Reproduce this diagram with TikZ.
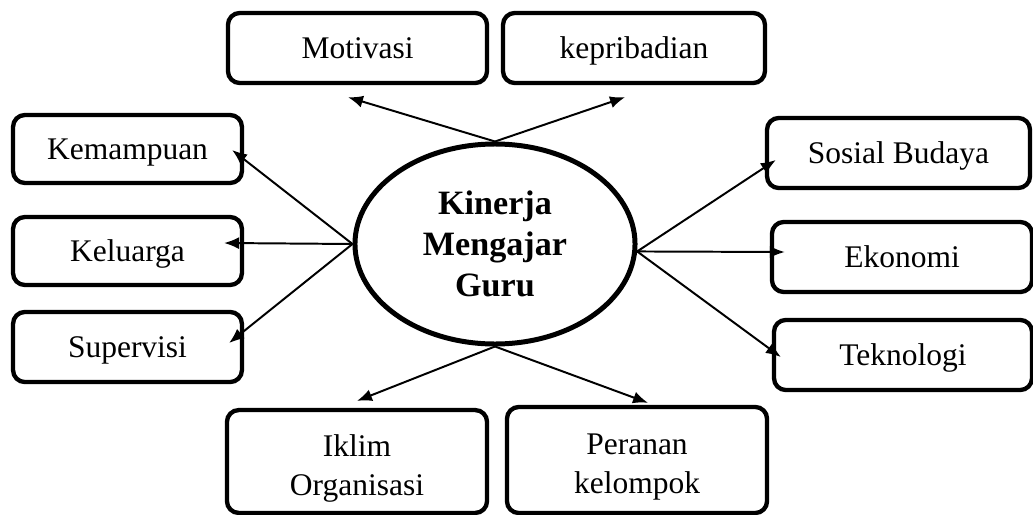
\documentclass[tikz,border=0pt]{standalone}
\usepackage{fontspec}
\setmainfont{Liberation Serif}
\usetikzlibrary{shapes.geometric,arrows.meta,calc}

\tikzset{
  kotak/.style={draw, line width=1.65pt, rounded corners=4.5pt, inner sep=0pt,
    text height=7.9pt, text depth=0pt},
  kotakdua/.style={draw, line width=1.65pt, rounded corners=4.5pt, inner sep=0pt,
    align=center, text height=28.5pt, text depth=2.6pt, font=\fontsize{12}{15}\selectfont},
  pusat/.style={draw, ellipse, line width=1.9pt, inner sep=0pt, align=center,
    font=\fontsize{13}{15.5}\selectfont\bfseries},
  panah/.style={->, line width=0.75pt}
}

\begin{document}
\begin{tikzpicture}[x=0.381pt, y=-0.381pt, >={Latex[length=5.7pt,width=4.6pt]},
    font=\fontsize{12}{14.5}\selectfont]
    \useasboundingbox (0,0) rectangle (1033,515);

    % 1. Elips di tengah
    \node[pusat, minimum width=106.7pt, minimum height=76.2pt] (guru) at (495,244)
        {Kinerja\\Mengajar\\Guru};

    % 2. Kotak atas
    \node[kotak, minimum width=98.7pt, minimum height=26.7pt] (mot) at (357.5,48) {Motivasi};
    \node[kotak, minimum width=99.8pt, minimum height=26.7pt] (kep) at (634,48) {kepribadian};

    % 3. Kotak kiri
    \node[kotak, minimum width=87.2pt, minimum height=25.9pt] (kem) at (127.5,149) {Kemampuan};
    \node[kotak, minimum width=87.2pt, minimum height=25.9pt] (kel) at (127.5,251) {Keluarga};
    \node[kotak, minimum width=87.2pt, minimum height=26.7pt] (sup) at (127.5,347) {Supervisi};

    % 4. Kotak kanan
    \node[kotak, minimum width=100.2pt, minimum height=26.7pt] (sos) at (898.5,153) {Sosial Budaya};
    \node[kotak, minimum width=99.1pt, minimum height=26.7pt] (eko) at (902,257) {Ekonomi};
    \node[kotak, minimum width=98.3pt, minimum height=26.7pt] (tek) at (903,355) {Teknologi};

    % 5. Kotak bawah
    \node[kotakdua, minimum width=99.1pt, minimum height=39.2pt] (ikl) at (357,461.5)
        {Iklim\\Organisasi};
    \node[kotakdua, minimum width=99.1pt, minimum height=40.4pt] (per) at (637,460)
        {Peranan\\kelompok};

    % 6. Panah dari elips
    \draw[panah] (guru.north) -- ($(mot.south)+(-9.5,12)$);
    \draw[panah] (guru.north) -- ($(kep.south)+(-9,12)$);
    \draw[panah] (guru.west) -- ($(kem.east)+(-12,1)$);
    \draw[panah] (guru.west) -- ($(kel.east)+(-20,-8)$);
    \draw[panah] (guru.west) -- ($(sup.east)+(-15,-4)$);
    \draw[panah] (guru.-3) -- ($(sos.west)+(11,7)$);
    \draw[panah] (guru.-3) -- ($(eko.west)+(15,-5)$);
    \draw[panah] (guru.-3) -- ($(tek.west)+(9,2)$);
    \draw[panah] (guru.south) -- ($(ikl.north)+(0,-7)$);
    \draw[panah] (guru.south) -- ($(per.north)+(11,-2)$);
\end{tikzpicture}
\end{document}
